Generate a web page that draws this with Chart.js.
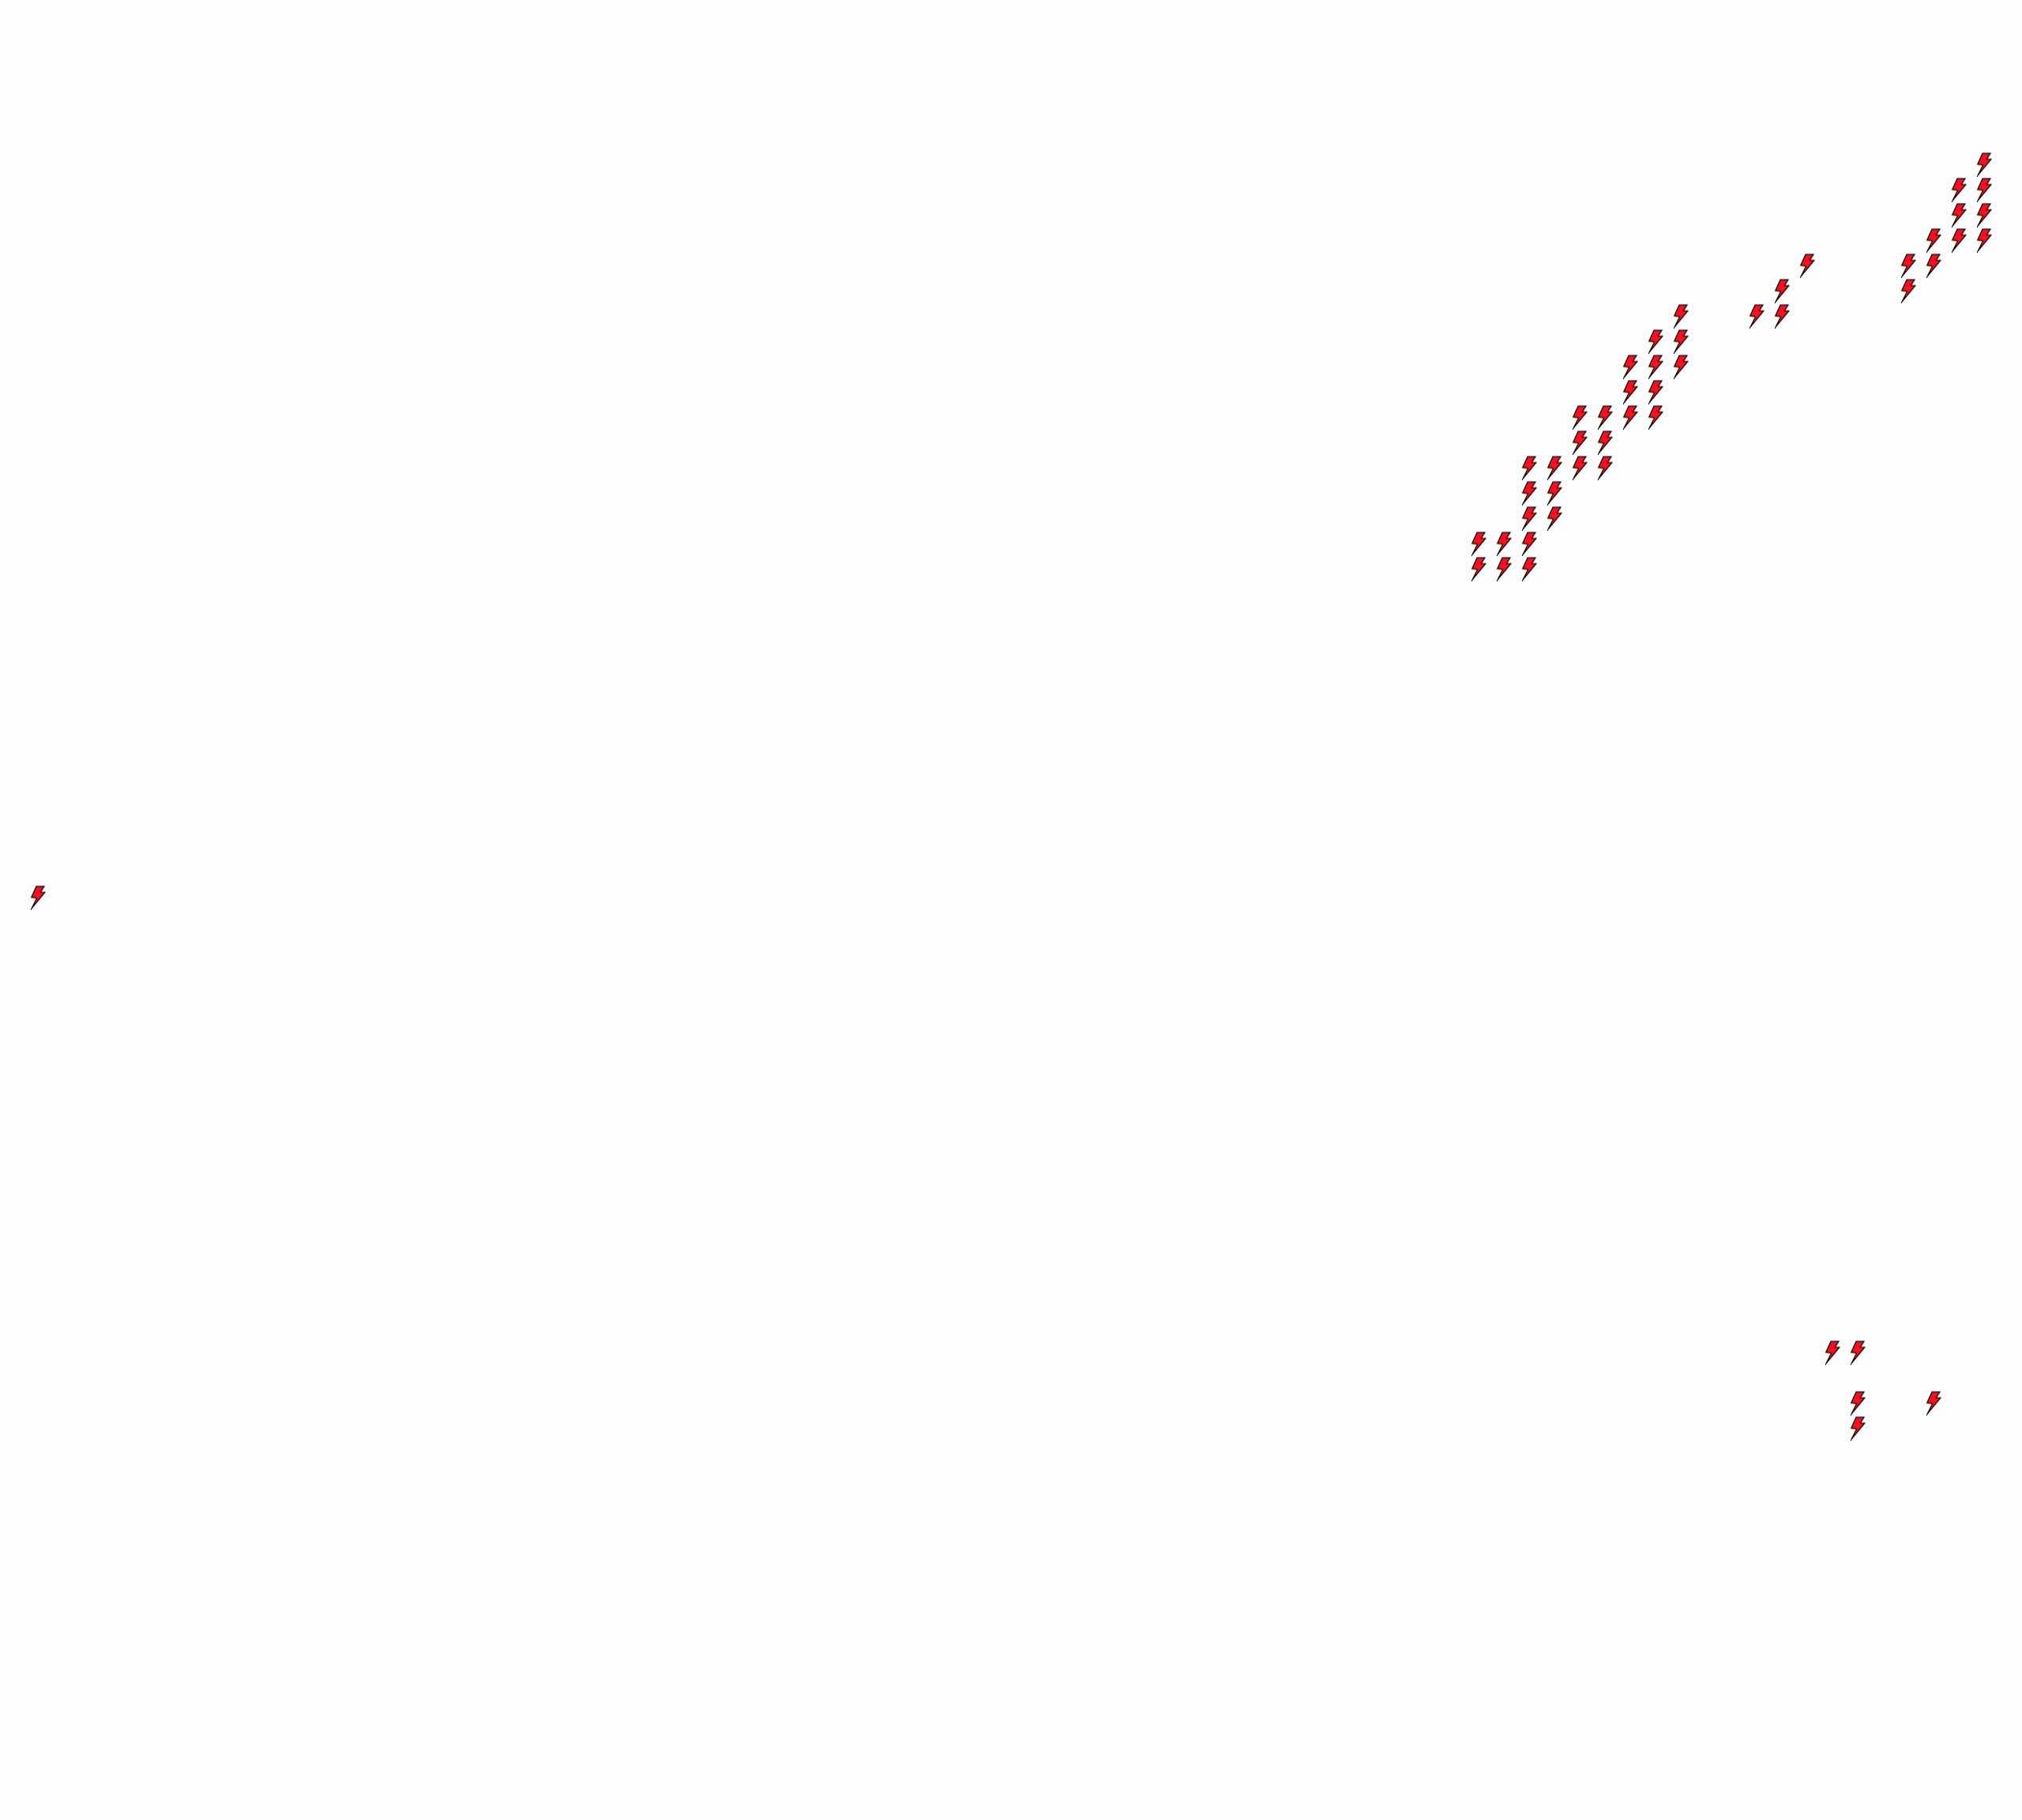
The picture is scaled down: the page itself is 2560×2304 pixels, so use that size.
<!DOCTYPE html>
<html>
<head>
<meta charset="utf-8">
<title>Bolts</title>
<script src="https://cdn.jsdelivr.net/npm/chart.js@4"></script>
<style>
  html, body { margin: 0; padding: 0; background: #fefefe; }
  canvas { display: block; }
</style>
</head>
<body>
<canvas id="bolt-chart" width="2560" height="2304"></canvas>
<script>
"use strict";

// one entry per bolt (grid units)
const xValues = [
  0,
  57, 57, 58, 58,
  59, 59, 59, 59, 59,
  60, 60, 60,
  61, 61, 61, 62, 62, 62,
  63, 63, 63, 64, 64, 64, 64,
  65, 65, 65,
  68, 69, 69, 70,
  74, 74, 75, 75,
  76, 76, 76, 77, 77, 77, 77,
  71, 72, 72, 72, 75,
];
const yValues = [
  0,
  13, 14, 13, 14,
  13, 14, 15, 16, 17,
  15, 16, 17,
  17, 18, 19, 17, 18, 19,
  19, 20, 21, 19, 20, 21, 22,
  21, 22, 23,
  23, 23, 24, 25,
  24, 25, 25, 26,
  26, 27, 28, 26, 27, 28, 29,
  -18, -18, -20, -21, -20,
];

const xRange = [-1.5, 78.5];
const yRange = [-36.5, 35.5];

// lightning bolt marker
function makeBolt() {
  const c = document.createElement("canvas");
  c.width = 20;
  c.height = 31;
  const g = c.getContext("2d");
  g.translate(1, 1);
  g.beginPath();
  g.moveTo(7, 0.7);
  g.lineTo(17, 0.7);
  g.lineTo(12.2, 8.2);
  g.lineTo(17.8, 8.2);
  g.lineTo(1, 28.6);
  g.lineTo(7.6, 15.4);
  g.lineTo(0.7, 14.4);
  g.closePath();
  g.fillStyle = "#fe0b1c";
  g.fill();
  g.strokeStyle = "#000000";
  g.lineWidth = 1.2;
  g.lineJoin = "miter";
  g.stroke();
  // the grey edge along the top of each bolt
  g.beginPath();
  g.moveTo(7, -0.2);
  g.lineTo(17.6, -0.2);
  g.strokeStyle = "#999999";
  g.lineWidth = 0.8;
  g.stroke();
  return c;
}

const points = [];
for (let i = 0; i < xValues.length; i++) {
  points.push({ x: xValues[i], y: yValues[i] });
}

new Chart(document.getElementById("bolt-chart"), {
  type: "scatter",
  data: {
    datasets: [
      {
        data: points,
        pointStyle: makeBolt(),
      },
    ],
  },
  options: {
    responsive: false,
    animation: false,
    layout: { padding: 0, autoPadding: false },
    plugins: {
      legend: { display: false },
      tooltip: { enabled: false },
    },
    scales: {
      x: { type: "linear", display: false, min: xRange[0], max: xRange[1] },
      y: { type: "linear", display: false, min: yRange[0], max: yRange[1] },
    },
  },
});
</script>
</body>
</html>
